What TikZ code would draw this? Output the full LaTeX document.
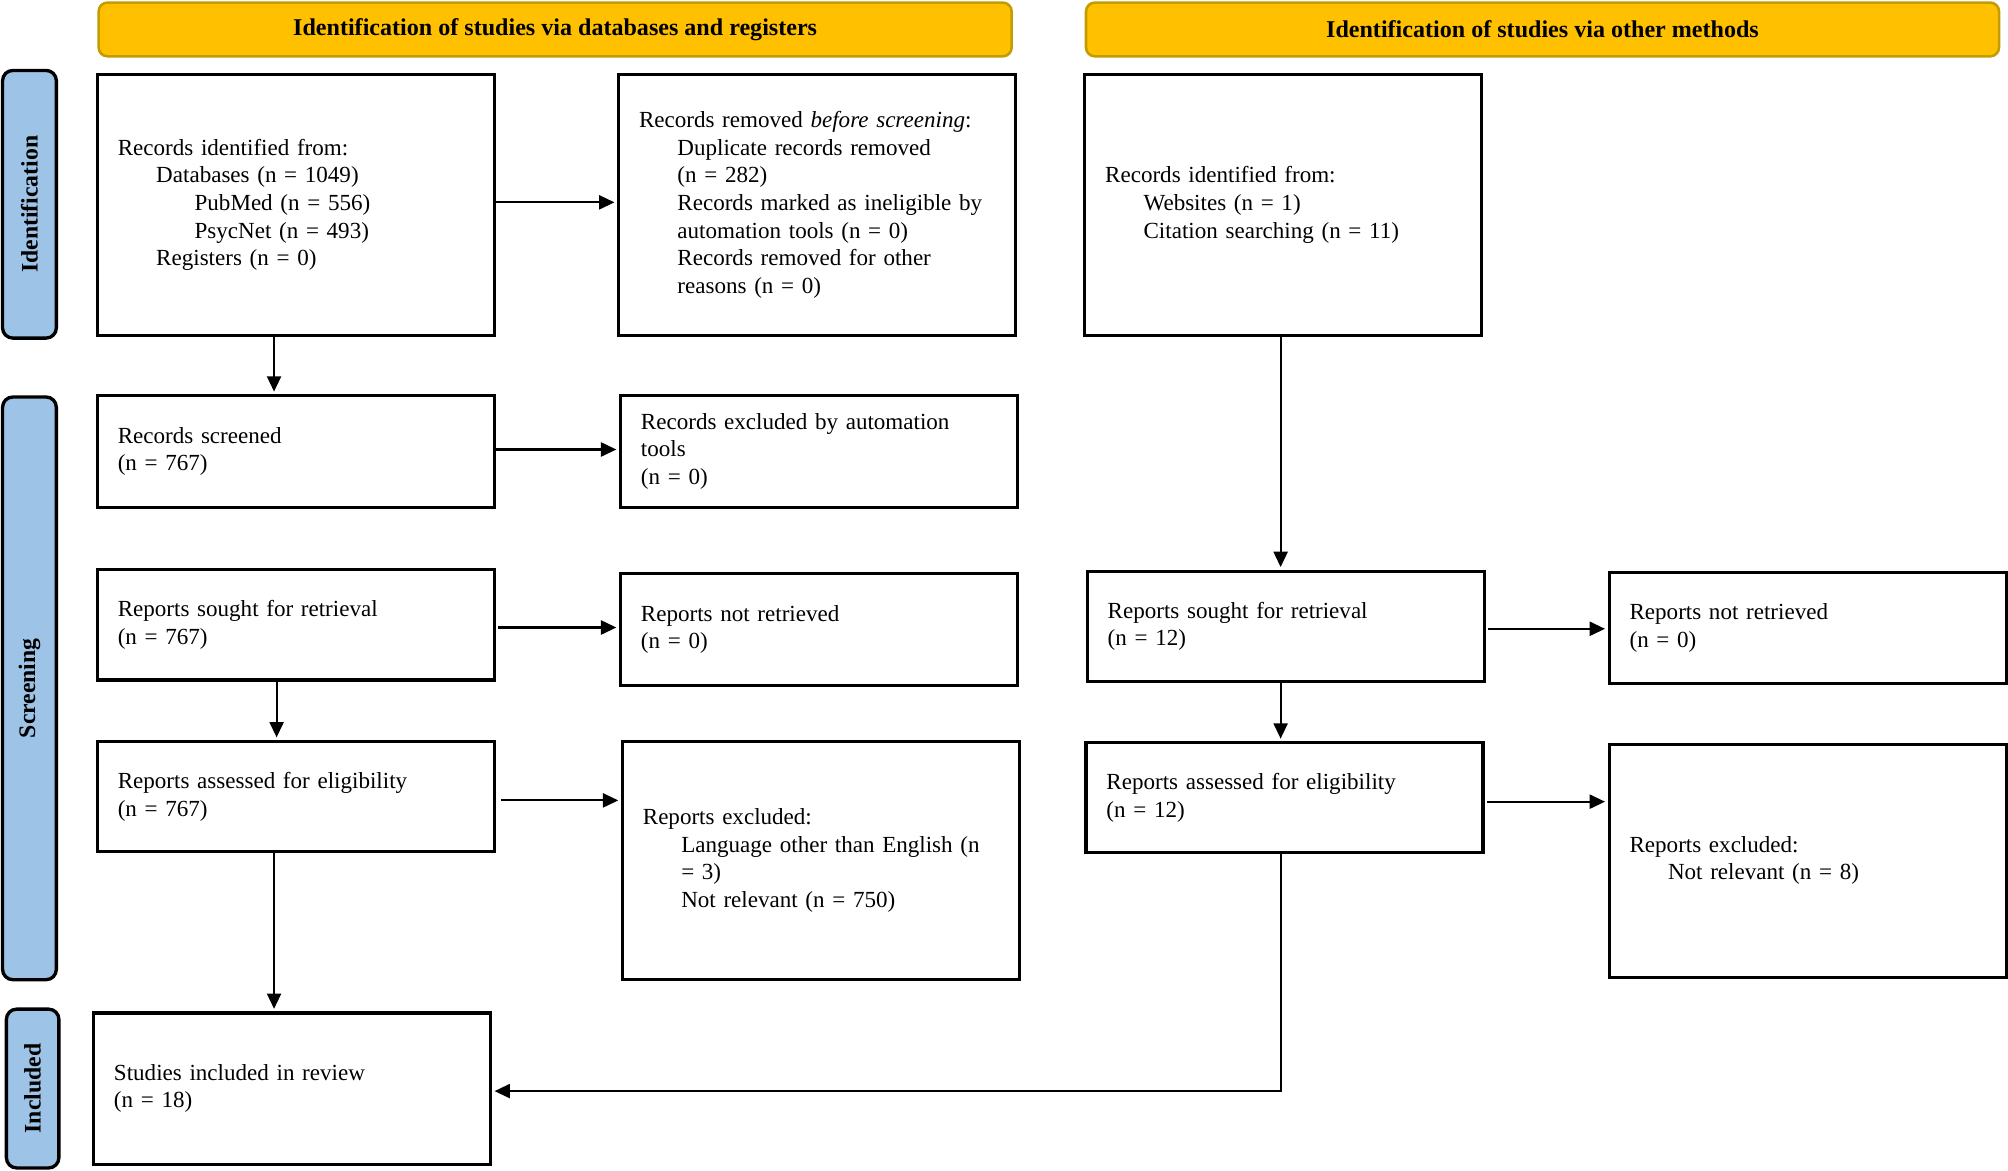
\documentclass[tikz,border=0pt]{standalone}
\usepackage{fontspec}
\setmainfont{Liberation Serif}
\usetikzlibrary{arrows.meta}
\definecolor{hdrfill}{RGB}{255,192,0}
\definecolor{hdrline}{RGB}{196,156,0}
\definecolor{sidefill}{RGB}{157,195,230}
\newcommand{\ind}{\hspace*{30pt}}
\newcommand{\indd}{\hspace*{60pt}}
\begin{document}
\begin{tikzpicture}[x=1pt,y=-1pt,
  box/.style={draw=black, line width=2.4pt, rectangle, inner xsep=16pt, inner ysep=0pt,
    align=left, text width=278pt, font=\fontsize{18}{21.6}\selectfont},
  hdr/.style={draw=hdrline, fill=hdrfill, line width=2pt, rounded corners=7pt,
    minimum width=713pt, minimum height=42pt, font=\fontsize{18.8}{22}\selectfont\bfseries},
  side/.style={draw=black, fill=sidefill, line width=2.6pt, rounded corners=8pt, rotate=90,
    inner sep=0pt, font=\fontsize{18.5}{22}\selectfont\bfseries},
  arr/.style={-{Triangle[length=12pt,width=11pt]}, line width=1.6pt, shorten >=2pt}]
\useasboundingbox (0,0) rectangle (1568,914);

% headers
\node[hdr] (h1) at (433.5,23) {Identification of studies via databases and registers};
\node[hdr] (h2) at (1204.5,23) {Identification of studies via other methods};

% side labels
\node[side, minimum width=209pt, minimum height=42pt] (s1) at (23,159.5) {Identification};
\node[side, minimum width=455pt, minimum height=42pt] (s2) at (23,537.5) {Screening};
\node[side, minimum width=124pt, minimum height=41pt] (s3) at (25.5,850) {Included};

% boxes
\node[box, minimum height=204pt] (A) at (231,160) {Records identified from:\\
\ind Databases (n = 1049)\\
\indd PubMed (n = 556)\\
\indd PsycNet (n = 493)\\
\ind Registers (n = 0)};
\node[box, minimum height=204pt] (B) at (638,160) {Records removed \textit{before screening}:\\
\ind Duplicate records removed\\
\ind (n = 282)\\
\ind Records marked as ineligible by\\
\ind automation tools (n = 0)\\
\ind Records removed for other\\
\ind reasons (n = 0)};
\node[box, minimum height=204pt] (C) at (1002,160) {Records identified from:\\
\ind Websites (n = 1)\\
\ind Citation searching (n = 11)};

\node[box, minimum height=87pt] (D) at (231,352.5) {Records screened\\(n = 767)};
\node[box, minimum height=87pt] (E) at (639.5,352.5) {Records excluded by automation\\tools\\(n = 0)};
\node[box, minimum height=86pt] (F) at (231,488) {Reports sought for retrieval\\(n = 767)};
\node[box, minimum height=87pt] (G) at (639.5,491.5) {Reports not retrieved\\(n = 0)};
\node[box, minimum height=86pt] (H) at (1004,489) {Reports sought for retrieval\\(n = 12)};
\node[box, minimum height=87pt] (I) at (1411.5,490.5) {Reports not retrieved\\(n = 0)};
\node[box, minimum height=86pt] (J) at (231,622) {Reports assessed for eligibility\\(n = 767)};
\node[box, minimum height=186pt] (K) at (641,672) {Reports excluded:\\
\ind Language other than English (n\\
\ind = 3)\\
\ind Not relevant (n = 750)};
\node[box, minimum height=86pt] (L) at (1003,623) {Reports assessed for eligibility\\(n = 12)};
\node[box, minimum height=182pt] (M) at (1411.5,672) {Reports excluded:\\
\ind Not relevant (n = 8)};
\node[box, minimum height=118pt] (N) at (228,850) {Studies included in review\\(n = 18)};

% connectors
\draw[arr] ([yshift=2pt]A.east) -- ([yshift=2pt]A.east -| B.west);
\draw[arr] ([xshift=-17pt]A.south) -- ([xshift=-17pt]A.south |- D.north);
\draw[arr] ([yshift=1.5pt]D.east) -- ([yshift=1.5pt]D.east -| E.west);
\draw[arr] ([xshift=2pt,yshift=-2pt]F.east) -- ([yshift=-2pt]F.east -| G.west);
\draw[arr] ([xshift=-15pt]F.south) -- ([xshift=-15pt]F.south |- J.north);
\draw[arr] ([xshift=4pt,yshift=-3pt]J.east) -- ([yshift=-3pt]J.east -| K.west);
\draw[arr] ([xshift=-17pt]J.south) -- ([xshift=-17pt]J.south |- N.north);
\draw[arr] ([xshift=-2pt]C.south) -- ([xshift=-2pt]C.south |- H.north);
\draw[arr] ([xshift=2pt,yshift=-2pt]H.east) -- ([yshift=-2pt]H.east -| I.west);
\draw[arr] ([xshift=-4pt]H.south) -- ([xshift=-4pt]H.south |- L.north);
\draw[arr] ([xshift=2pt,yshift=-3pt]L.east) -- ([yshift=-3pt]L.east -| M.west);
\draw[arr] ([xshift=-3pt]L.south) -- ([xshift=-3pt,yshift=-2pt]L.south |- N.east) -- ([yshift=-2pt]N.east);
\end{tikzpicture}
\end{document}
